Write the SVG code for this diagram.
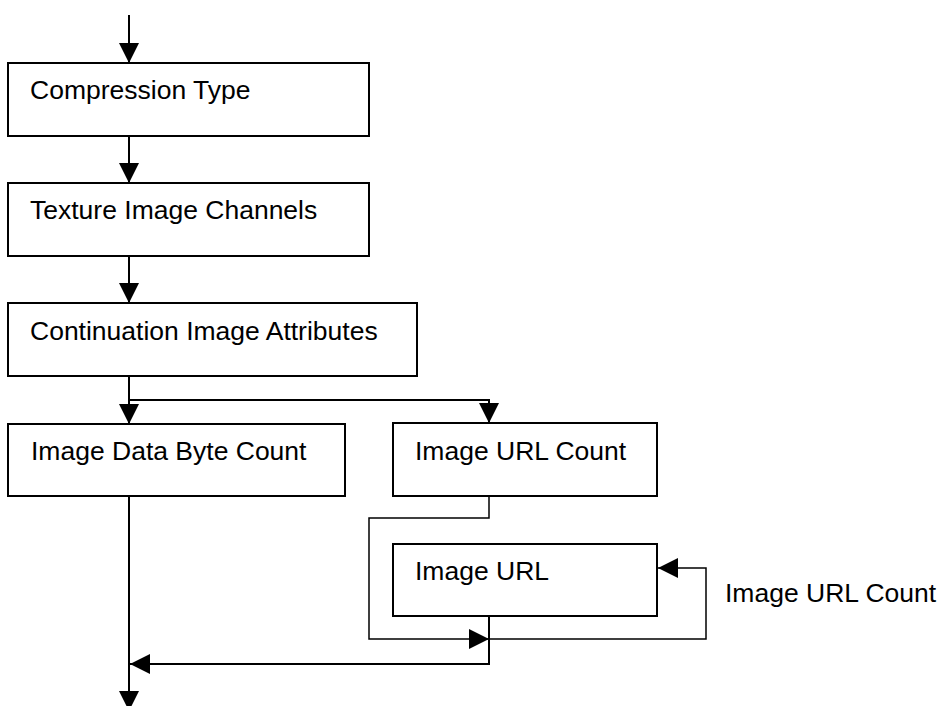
<svg xmlns="http://www.w3.org/2000/svg" width="941" height="706" viewBox="0 0 941 706">
<style>
.box{fill:#fff;stroke:#000;stroke-width:2}
.lbl{font-family:"Liberation Sans",Arial,sans-serif;font-size:26.5px;fill:#000}
.con{fill:none;stroke:#000;stroke-width:2}
.thin{fill:none;stroke:#000;stroke-width:1.5}
</style>
<defs>
<marker id="arr" markerUnits="userSpaceOnUse" markerWidth="20" markerHeight="20" refX="20" refY="10" orient="auto" viewBox="0 0 20 20">
<path d="M0,0 L20,10 L0,20 z" fill="#000"/>
</marker>
</defs>
<g id="connectors">
<path class="con" d="M129,15 V63" marker-end="url(#arr)"/>
<path class="con" d="M129,136 V183" marker-end="url(#arr)"/>
<path class="con" d="M129,256 V303" marker-end="url(#arr)"/>
<path class="con" d="M129,376 V424" marker-end="url(#arr)"/>
<path class="con" d="M129,400 H489 V423" marker-end="url(#arr)"/>
<path class="con" d="M129,496 V711" marker-end="url(#arr)"/>
<path class="thin" d="M489,496 V518 H369 V639 H489" marker-end="url(#arr)"/>
<path class="con" d="M489,616 V664 H130" marker-end="url(#arr)"/>
<path class="thin" d="M489,639 H706 V568 H658" marker-end="url(#arr)"/>
</g>
<g id="compression-type">
<rect class="box" x="8" y="63" width="361" height="73"/>
<text class="lbl" x="30" y="99">Compression Type</text>
</g>
<g id="texture-image-channels">
<rect class="box" x="8" y="183" width="361" height="73"/>
<text class="lbl" x="30" y="219">Texture Image Channels</text>
</g>
<g id="continuation-image-attributes">
<rect class="box" x="8" y="303" width="409" height="73"/>
<text class="lbl" x="30" y="340">Continuation Image Attributes</text>
</g>
<g id="image-data-byte-count">
<rect class="box" x="8" y="424" width="337" height="72"/>
<text class="lbl" x="31" y="460">Image Data Byte Count</text>
</g>
<g id="image-url-count">
<rect class="box" x="393" y="423" width="264" height="73"/>
<text class="lbl" x="415" y="460">Image URL Count</text>
</g>
<g id="image-url">
<rect class="box" x="393" y="544" width="264" height="72"/>
<text class="lbl" x="415" y="580">Image URL</text>
</g>
<g id="loop-label">
<text class="lbl" x="725" y="602">Image URL Count</text>
</g>
</svg>
